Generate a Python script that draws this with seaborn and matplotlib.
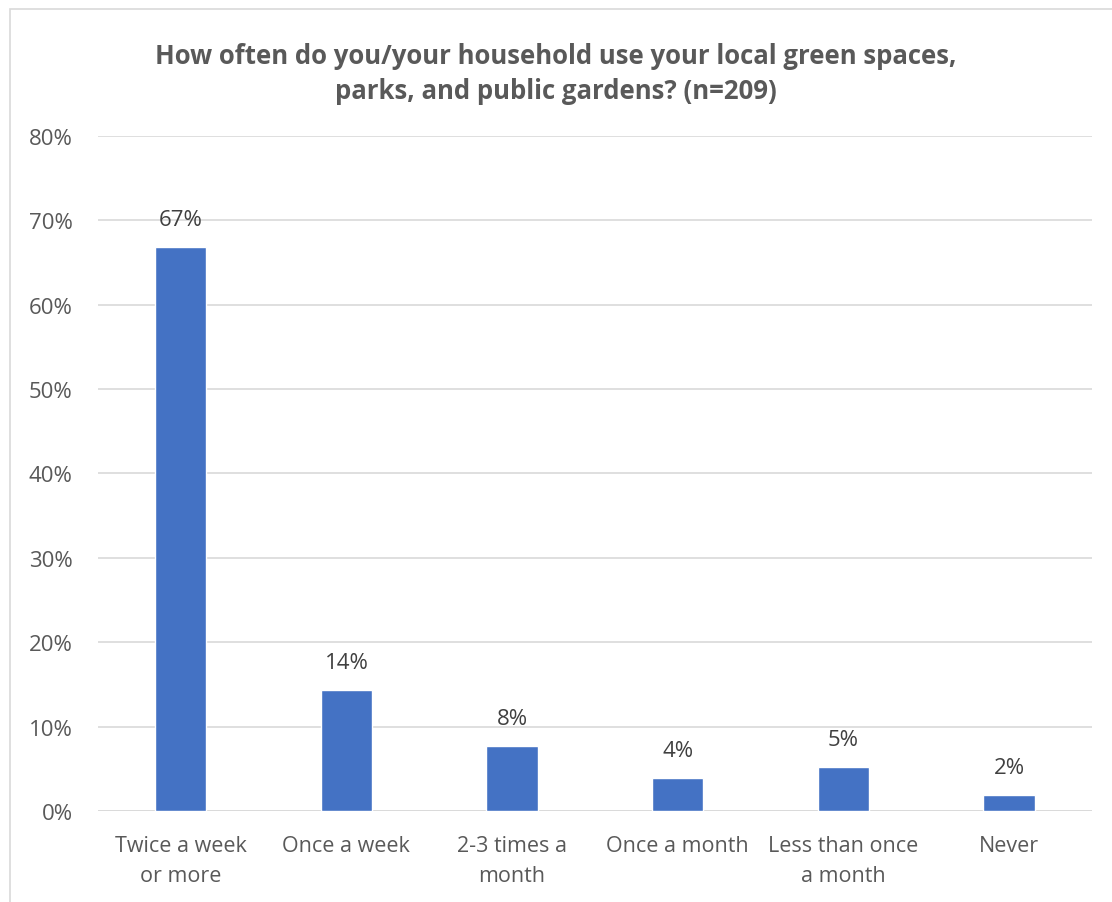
import seaborn as sns
import matplotlib.pyplot as plt
import pandas as pd
from matplotlib.patches import Rectangle
from matplotlib.ticker import PercentFormatter

sns.set_style("white")
plt.rcParams['font.family'] = ['Open Sans', 'DejaVu Sans']

# Данные
categories = ['Twice a week\nor more', 'Once a week', '2-3 times a\nmonth',
              'Once a month', 'Less than once\na month', 'Never']
values = [66.9, 14.3, 7.7, 3.9, 5.2, 1.9]
labels = ['67%', '14%', '8%', '4%', '5%', '2%']

df = pd.DataFrame({'category': categories, 'value': values})

fig = plt.figure(figsize=(11.12, 9.03), dpi=100)
ax = fig.add_axes([0.088, 0.1008, 0.894, 0.7475])

sns.barplot(data=df, x='category', y='value', color='#4472C4', width=0.31,
            saturation=1, ax=ax, zorder=3)

ax.set_ylim(0, 80)
ax.set_yticks(range(0, 81, 10))
ax.yaxis.set_major_formatter(PercentFormatter(decimals=0))
ax.grid(axis='y', color='#D9D9D9', linewidth=1.2, zorder=0)
ax.set_axisbelow(True)
for s in ax.spines.values():
    s.set_visible(False)
ax.axhline(0, color='#D9D9D9', linewidth=1.2, zorder=1)

ax.set_xlabel('')
ax.set_ylabel('')
ax.tick_params(axis='y', length=0, labelsize=16, colors='#595959', pad=18)
ax.tick_params(axis='x', length=0, labelsize=15.5, colors='#595959', pad=17)
for t in ax.get_xticklabels():
    t.set_linespacing(1.6)

for i, (v, lab) in enumerate(zip(values, labels)):
    ax.text(i, v + 2.0, lab, ha='center', va='bottom', fontsize=16, color='#404040')

fig.text(0.5, 0.918, 'How often do you/your household use your local green spaces,\nparks, and public gardens? (n=209)',
         ha='center', va='center', fontsize=18.5, fontweight='bold', color='#595959',
         linespacing=1.35)

# рамка диаграммы
fig.patches.append(Rectangle((0.009, -0.01), 1.2, 0.999, transform=fig.transFigure,
                             fill=False, edgecolor='#D9D9D9', linewidth=1.2))

fig.savefig('out.png', dpi=100)
